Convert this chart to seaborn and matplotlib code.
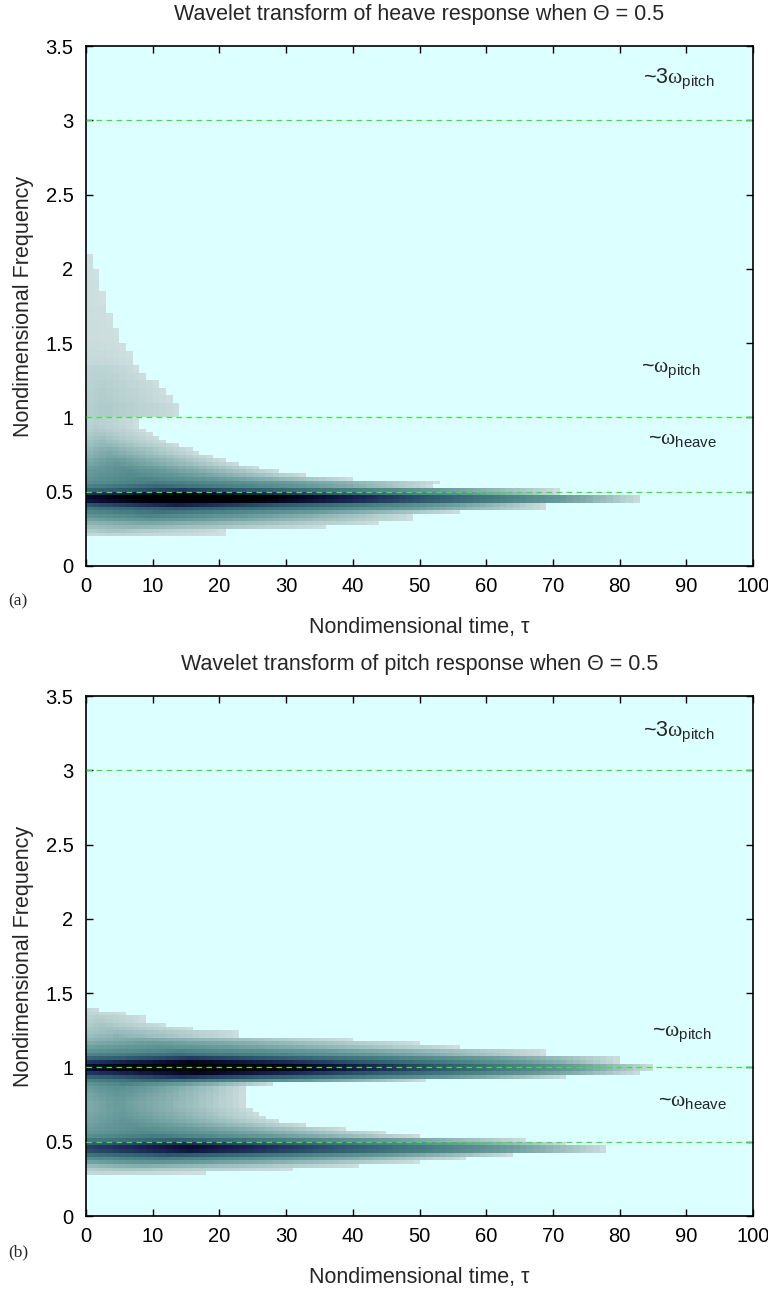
import numpy as np
import matplotlib
matplotlib.use("Agg")
import matplotlib.pyplot as plt
import seaborn as sns
from matplotlib.colors import LinearSegmentedColormap
from matplotlib.ticker import FuncFormatter

# ---------------- data ----------------
time_edges = list(range(0, 101))

# Panel (a): heave response. Row edges (frequency), fade-out time, peak level
a_freq_edges = [0.200, 0.225, 0.250, 0.275, 0.300, 0.325, 0.350, 0.375, 0.400, 0.425,
                0.450, 0.475, 0.500, 0.525, 0.550, 0.575, 0.600, 0.625, 0.650, 0.675,
                0.700, 0.725, 0.750, 0.775, 0.800, 0.825, 0.850, 0.875, 0.900, 0.925,
                0.950, 0.975, 1.00, 1.05, 1.10, 1.15, 1.20, 1.25, 1.30, 1.35,
                1.40, 1.45, 1.50, 1.55, 1.60, 1.65, 1.70, 1.75, 1.80, 1.85,
                1.90, 1.95, 2.00, 2.05, 2.10]
a_end = [21, 21, 36, 44, 49, 49, 56, 69, 69, 83,
         83, 71, 71, 52, 53, 40, 33, 29, 26, 23,
         21, 19, 17, 16, 14, 12, 11, 10, 9, 8,
         8, 8, 14.5, 14.5, 13, 12, 11, 9.5, 8.5, 7.5,
         6.8, 6, 5.5, 5, 4.5, 4, 3.5, 3, 2.7, 2.3,
         2, 1.6, 1.3, 0.8]
a_peak = [0.16, 0.24, 0.30, 0.36, 0.44, 0.52, 0.60, 0.70, 0.86, 1.08,
          1.12, 0.97, 0.78, 0.64, 0.56, 0.52, 0.49, 0.47, 0.45, 0.42,
          0.40, 0.37, 0.35, 0.33, 0.30, 0.28, 0.26, 0.24, 0.22, 0.21,
          0.20, 0.20, 0.22, 0.22, 0.21, 0.21, 0.20, 0.19, 0.18, 0.15,
          0.14, 0.13, 0.12, 0.12, 0.12, 0.12, 0.12, 0.11, 0.11, 0.11,
          0.11, 0.11, 0.11, 0.11]

# Panel (b): pitch response
b_freq_edges = [0.275, 0.300, 0.325, 0.350, 0.375, 0.400, 0.425, 0.450, 0.475, 0.500,
                0.525, 0.550, 0.575, 0.600, 0.625, 0.650, 0.675, 0.700, 0.725, 0.750,
                0.775, 0.800, 0.825, 0.850, 0.875, 0.900, 0.925, 0.950, 0.975, 1.000,
                1.025, 1.050, 1.075, 1.100, 1.125, 1.150, 1.175, 1.200, 1.225, 1.250,
                1.275, 1.300, 1.325, 1.350, 1.375, 1.400]
b_end = [18, 31, 41, 50, 57, 64, 78, 78, 72, 66,
         50, 45, 39, 33, 29, 27, 26, 25, 24, 24,
         24, 24, 24, 24, 28, 51, 72, 83, 85, 85,
         80, 80, 69, 69, 56, 50, 40, 23, 23, 16,
         12, 9, 9, 6, 2.5]
b_peak = [0.16, 0.24, 0.33, 0.44, 0.56, 0.72, 0.88, 0.92, 0.82, 0.68,
          0.56, 0.50, 0.47, 0.45, 0.43, 0.42, 0.41, 0.40, 0.40, 0.40,
          0.41, 0.42, 0.44, 0.46, 0.52, 0.64, 0.80, 0.96, 1.12, 1.12,
          0.96, 0.78, 0.62, 0.52, 0.45, 0.40, 0.35, 0.31, 0.28, 0.26,
          0.24, 0.22, 0.20, 0.17, 0.15]

ref_freqs = [0.5, 1.0, 3.0]
a_labels = [(83.5, 3.28, "~3", "pitch"), (83.2, 1.32, "~", "pitch"), (84.3, 0.86, "~", "heave")]
b_labels = [(83.5, 3.26, "~3", "pitch"), (84.9, 1.23, "~", "pitch"), (85.8, 0.78, "~", "heave")]

titles = ["Wavelet transform of heave response when \u0398 = 0.5",
          "Wavelet transform of pitch response when \u0398 = 0.5"]
xlabel = "Nondimensional time, \u03c4"
ylabel = "Nondimensional Frequency"
panel_tags = ["(a)", "(b)"]

# ---------------- styling ----------------
sns.set_style("ticks")
plt.rcParams["font.family"] = ["Liberation Sans", "DejaVu Sans"]
plt.rcParams["mathtext.fontset"] = "custom"
plt.rcParams["mathtext.rm"] = "Liberation Sans"
plt.rcParams["mathtext.it"] = "Liberation Serif"

BG = "#dcffff"
cmap = LinearSegmentedColormap.from_list(
    "wave",
    [(0.0, "#dde9e9"), (0.1, "#d0e0e0"), (0.2, "#b5cfcf"), (0.3, "#8fb5b5"),
     (0.4, "#689b9b"), (0.55, "#467f82"), (0.7, "#2f5a70"), (0.82, "#1d2a58"),
     (0.92, "#0c0c30"), (1.0, "#000000")])

LO, UPK, EXP = 0.10, 0.20, 0.7


def build(end, peak):
    tc = np.asarray(time_edges[:-1], float) + 0.5
    Z = np.full((len(end), len(tc)), np.nan)
    for i, (e, p) in enumerate(zip(end, peak)):
        u = tc / e
        rise = 0.8 + 0.2 * u / UPK
        fall = np.clip((1 - u) / (1 - UPK), 0, None) ** EXP
        s = np.where(u < UPK, rise, fall)
        v = np.clip(LO + (p - LO) * s, 0, 1)
        v[u >= 1] = np.nan
        Z[i] = v
    return Z


fig = plt.figure(figsize=(7.68, 12.91), dpi=100)
W, H = 768, 1291
axes = [fig.add_axes([86 / W, 1 - 566 / H, 667 / W, 520 / H]),
        fig.add_axes([86 / W, 1 - 1216 / H, 667 / W, 520 / H])]

panels = [(a_freq_edges, a_end, a_peak, a_labels), (b_freq_edges, b_end, b_peak, b_labels)]

for k, (ax, (fe, en, pk, labs)) in enumerate(zip(axes, panels)):
    ax.set_facecolor(BG)
    Z = build(en, pk)
    ax.pcolormesh(time_edges, fe, Z, cmap=cmap, vmin=0, vmax=1, shading="flat",
                  edgecolors="none", antialiased=False, zorder=1)
    for f in ref_freqs:
        sns.lineplot(x=[0, 100], y=[f, f], ax=ax, color="#35e635", lw=0.9,
                     linestyle=(0, (4.5, 3.5)), zorder=3)
    for (tx, fy, pre, sub) in labs:
        ax.text(tx, fy, pre + r"$\omega_{\mathrm{" + sub + r"}}$", fontsize=15.5,
                ha="left", va="center", zorder=4)
    ax.set_xlim(0, 100)
    ax.set_ylim(0, 3.5)
    ax.set_xticks(range(0, 101, 10))
    ax.set_yticks([0, 0.5, 1, 1.5, 2, 2.5, 3, 3.5])
    ax.yaxis.set_major_formatter(FuncFormatter(lambda v, p: f"{v:g}"))
    ax.tick_params(direction="in", top=True, right=True, length=5, width=1,
                   labelsize=14.5, colors="black")
    ax.tick_params(axis="x", pad=8)
    ax.tick_params(axis="y", pad=9)
    for sp in ax.spines.values():
        sp.set_visible(True)
        sp.set_linewidth(1.2)
        sp.set_color("black")
    ax.set_xlabel(xlabel, fontsize=15.5, labelpad=15)
    ax.set_ylabel(ylabel, fontsize=15.5, labelpad=8)
    ax.set_title(titles[k], fontsize=15.5, pad=19)
    ax.grid(False)

fig.text(8 / W, 1 - 601 / H, panel_tags[0], fontsize=12.5, family="Liberation Serif",
         ha="left", va="center")
fig.text(8 / W, 1 - 1252 / H, panel_tags[1], fontsize=12.5, family="Liberation Serif",
         ha="left", va="center")

fig.savefig("out.png", dpi=100, facecolor="white")
